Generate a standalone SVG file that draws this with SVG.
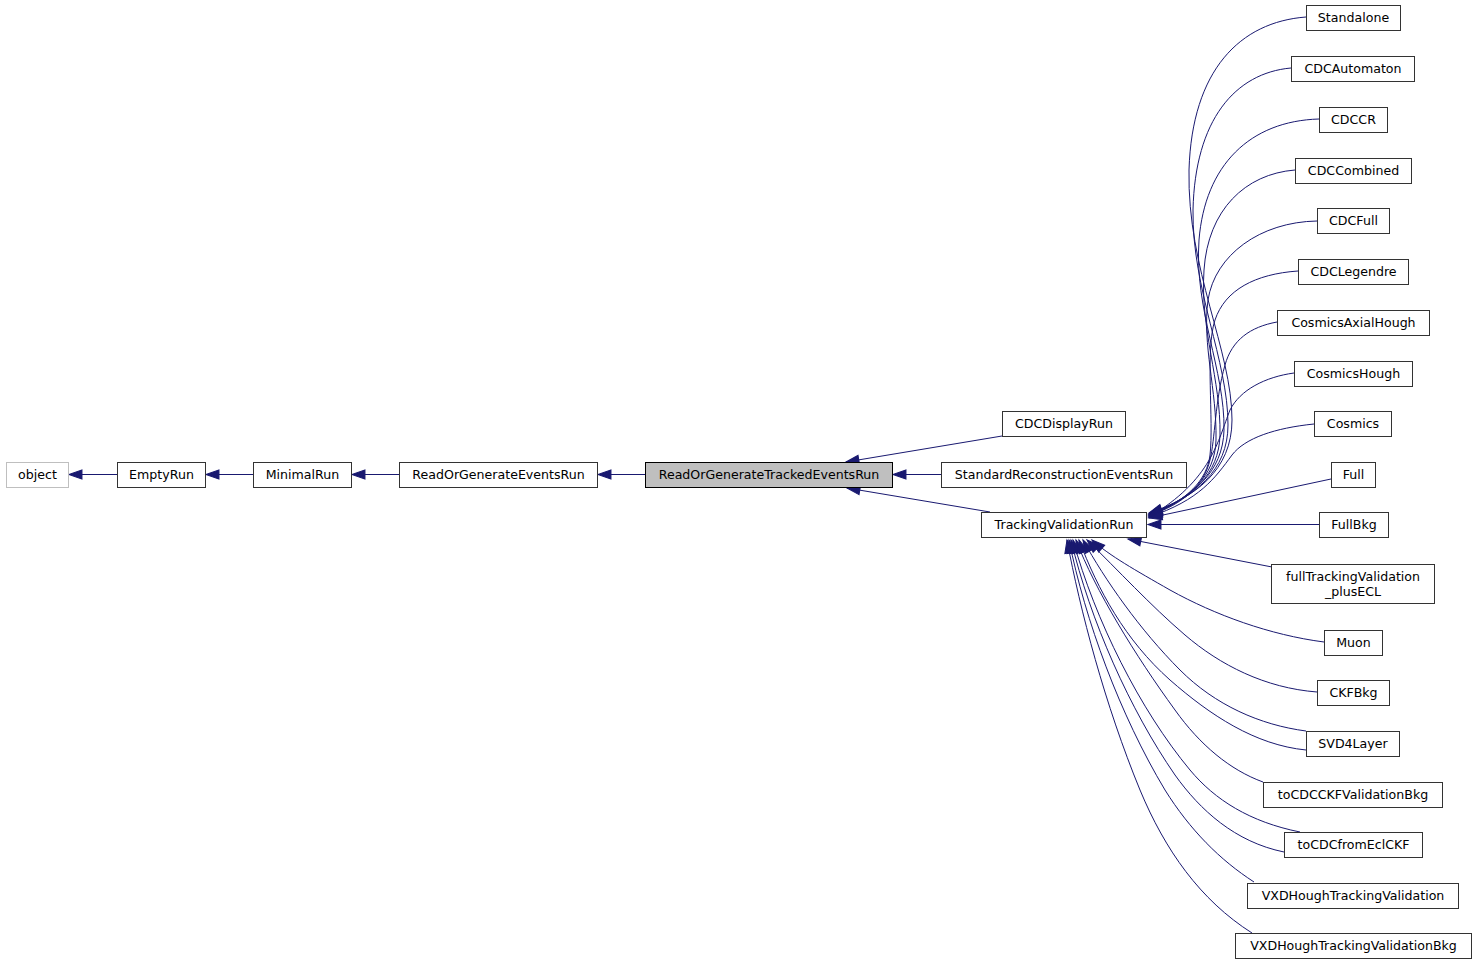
<svg xmlns="http://www.w3.org/2000/svg" width="1477" height="965" viewBox="0 0 1477 965">
<style>
.n rect{fill:#ffffff;stroke:#333333;stroke-width:1}
.n text{font-family:"DejaVu Sans","Liberation Sans",sans-serif;font-size:12.6px;fill:#000000;text-anchor:middle}
#object rect{stroke:#bfbfbf}
#ReadOrGenerateTrackedEventsRun rect{fill:#bfbfbf;stroke:#000000}
.e path{fill:none;stroke:#191970;stroke-width:1;marker-end:url(#ah)}
</style>
<defs>
<marker id="ah" markerUnits="userSpaceOnUse" markerWidth="14" markerHeight="11" viewBox="0 0 13 10" refX="12.5" refY="5" orient="auto" overflow="visible">
<path d="M0.5,0.8 L12.5,5 L0.5,9.2 z" fill="#191970" stroke="#191970" stroke-width="1"/>
</marker>
</defs>
<rect x="0" y="0" width="1477" height="965" fill="#ffffff"/>
<g class="e" id="edges">
<path d="M117,474.5 L69,474.5"/>
<path d="M253,474.5 L206,474.5"/>
<path d="M399,474.5 L352,474.5"/>
<path d="M645,474.5 L598,474.5"/>
<path d="M941,474.5 L893,474.5"/>
<path d="M1002,436 L846,462"/>
<path d="M990,512 L847,488"/>
<path d="M1306,17 C1240,22 1192,70 1189,170 C1187,270 1232,350 1232,420 C1232,470 1195,498 1149,513"/>
<path d="M1291,68 C1235,73 1195,120 1193,210 C1192,290 1228,360 1228,425 C1228,470 1195,498 1149,514"/>
<path d="M1319,119 C1250,121 1205,165 1199,240 C1194,310 1225,370 1224,430 C1223,472 1193,498 1149,514"/>
<path d="M1295,170 C1245,174 1208,210 1204,270 C1200,330 1221,380 1220,435 C1219,474 1192,499 1149,515"/>
<path d="M1317,221 C1260,222 1215,255 1208,300 C1202,345 1217,390 1216,440 C1215,476 1190,500 1149,515"/>
<path d="M1298,271 C1255,274 1225,290 1215,320 C1205,350 1214,420 1210,455 C1207,480 1188,500 1149,516"/>
<path d="M1277,322 C1250,327 1232,340 1225,365 C1215,400 1215,440 1210,460 C1204,485 1185,503 1149,516"/>
<path d="M1294,373 C1265,377 1240,390 1230,410 C1218,440 1212,480 1149,517"/>
<path d="M1314,424 C1275,428 1245,438 1232,455 C1215,478 1200,500 1149,517"/>
<path d="M1331,479 L1149,518"/>
<path d="M1319,524.5 L1148,524.5"/>
<path d="M1272,567 L1128,539"/>
<path d="M1324,642 C1270,635 1215,615 1170,590 C1135,570 1110,556 1092,540"/>
<path d="M1317,692 C1265,688 1220,665 1185,635 C1150,605 1118,570 1087,540"/>
<path d="M1306,731 C1260,725 1215,705 1180,670 C1140,630 1105,580 1083,540"/>
<path d="M1306,750 C1255,745 1210,715 1170,680 C1125,640 1098,590 1079,540"/>
<path d="M1263,782 C1230,770 1200,745 1175,710 C1135,655 1095,590 1076,540"/>
<path d="M1300,832 C1250,822 1215,800 1190,770 C1140,710 1095,620 1073,540"/>
<path d="M1284,852 C1235,842 1200,810 1175,775 C1130,710 1090,620 1071,540"/>
<path d="M1254,882 C1220,860 1190,830 1165,790 C1120,715 1085,620 1069,540"/>
<path d="M1252,933 C1200,900 1165,850 1140,790 C1105,705 1080,610 1067,540"/>
</g>
<g class="n" id="object"><rect x="6.5" y="462.5" width="62" height="25"/><text x="37.5" y="479">object</text></g>
<g class="n" id="EmptyRun"><rect x="117.5" y="462.5" width="88" height="25"/><text x="161.5" y="479">EmptyRun</text></g>
<g class="n" id="MinimalRun"><rect x="253.5" y="462.5" width="98" height="25"/><text x="302.5" y="479">MinimalRun</text></g>
<g class="n" id="ReadOrGenerateEventsRun"><rect x="399.5" y="462.5" width="198" height="25"/><text x="498.5" y="479">ReadOrGenerateEventsRun</text></g>
<g class="n" id="ReadOrGenerateTrackedEventsRun"><rect x="645.5" y="462.5" width="247" height="25"/><text x="769" y="479">ReadOrGenerateTrackedEventsRun</text></g>
<g class="n" id="CDCDisplayRun"><rect x="1002.5" y="411.5" width="123" height="25"/><text x="1064" y="428">CDCDisplayRun</text></g>
<g class="n" id="StandardReconstructionEventsRun"><rect x="941.5" y="462.5" width="245" height="25"/><text x="1064" y="479">StandardReconstructionEventsRun</text></g>
<g class="n" id="TrackingValidationRun"><rect x="981.5" y="512.5" width="165" height="25"/><text x="1064" y="529">TrackingValidationRun</text></g>
<g class="n" id="Standalone"><rect x="1306.5" y="5.5" width="94" height="25"/><text x="1353.5" y="22">Standalone</text></g>
<g class="n" id="CDCAutomaton"><rect x="1291.5" y="56.5" width="123" height="25"/><text x="1353" y="73">CDCAutomaton</text></g>
<g class="n" id="CDCCR"><rect x="1319.5" y="107.5" width="68" height="25"/><text x="1353.5" y="124">CDCCR</text></g>
<g class="n" id="CDCCombined"><rect x="1295.5" y="158.5" width="116" height="25"/><text x="1353.5" y="175">CDCCombined</text></g>
<g class="n" id="CDCFull"><rect x="1317.5" y="208.5" width="72" height="25"/><text x="1353.5" y="225">CDCFull</text></g>
<g class="n" id="CDCLegendre"><rect x="1298.5" y="259.5" width="110" height="25"/><text x="1353.5" y="276">CDCLegendre</text></g>
<g class="n" id="CosmicsAxialHough"><rect x="1277.5" y="310.5" width="152" height="25"/><text x="1353.5" y="327">CosmicsAxialHough</text></g>
<g class="n" id="CosmicsHough"><rect x="1294.5" y="361.5" width="118" height="25"/><text x="1353.5" y="378">CosmicsHough</text></g>
<g class="n" id="Cosmics"><rect x="1314.5" y="411.5" width="77" height="25"/><text x="1353" y="428">Cosmics</text></g>
<g class="n" id="Full"><rect x="1331.5" y="462.5" width="44" height="25"/><text x="1353.5" y="479">Full</text></g>
<g class="n" id="FullBkg"><rect x="1319.5" y="512.5" width="69" height="25"/><text x="1354" y="529">FullBkg</text></g>
<g class="n" id="fullTrackingValidation_plusECL"><rect x="1271.5" y="564.5" width="163" height="39"/><text x="1353" y="580.5">fullTrackingValidation</text><text x="1353" y="595.5">_plusECL</text></g>
<g class="n" id="Muon"><rect x="1324.5" y="630.5" width="58" height="25"/><text x="1353.5" y="647">Muon</text></g>
<g class="n" id="CKFBkg"><rect x="1317.5" y="680.5" width="72" height="25"/><text x="1353.5" y="697">CKFBkg</text></g>
<g class="n" id="SVD4Layer"><rect x="1306.5" y="731.5" width="93" height="25"/><text x="1353" y="748">SVD4Layer</text></g>
<g class="n" id="toCDCCKFValidationBkg"><rect x="1263.5" y="782.5" width="179" height="25"/><text x="1353" y="799">toCDCCKFValidationBkg</text></g>
<g class="n" id="toCDCfromEclCKF"><rect x="1284.5" y="832.5" width="138" height="25"/><text x="1353.5" y="849">toCDCfromEclCKF</text></g>
<g class="n" id="VXDHoughTrackingValidation"><rect x="1247.5" y="883.5" width="211" height="25"/><text x="1353" y="900">VXDHoughTrackingValidation</text></g>
<g class="n" id="VXDHoughTrackingValidationBkg"><rect x="1235.5" y="933.5" width="236" height="25"/><text x="1353.5" y="950">VXDHoughTrackingValidationBkg</text></g>
</svg>
